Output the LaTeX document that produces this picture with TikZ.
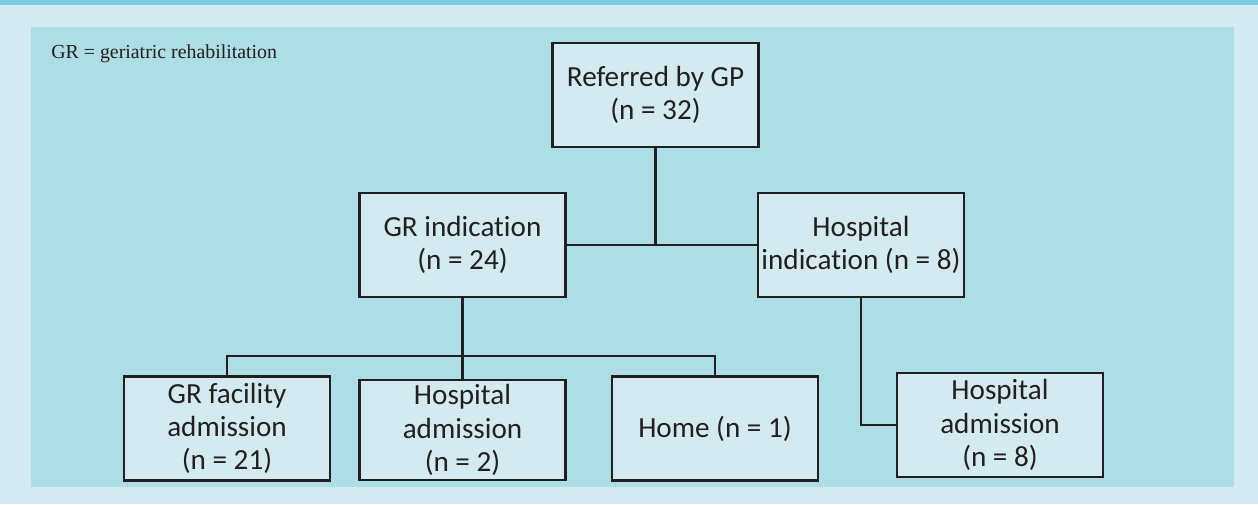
\documentclass[tikz,border=0pt]{standalone}
\usepackage{fontspec}
\usepackage{tikz}
\usepackage{xcolor}
\usetikzlibrary{positioning,calc}
\newfontfamily\boxfont[Ligatures=NoCommon]{Carlito}
\newfontfamily\notefont{Liberation Serif}
\definecolor{stripe}{HTML}{78CEDF}
\definecolor{outerbg}{HTML}{D3EBF0}
\definecolor{panelbg}{HTML}{ADDDE5}
\definecolor{boxfill}{HTML}{D3EBF0}
\definecolor{inkdark}{HTML}{231F20}
\tikzset{
  flowbox/.style={draw=inkdark,fill=boxfill,line width=1.25pt,minimum width=4.12cm,
    minimum height=2.08cm,align=center,text=inkdark,inner sep=2pt,
    font=\boxfont\fontsize{16.6}{18.9}\selectfont},
  link/.style={draw=inkdark,line width=1.25pt}
}

\begin{document}
\begin{tikzpicture}[x=0.02cm,y=-0.02cm]
  \useasboundingbox (0,0) rectangle (1258,504);
  \fill[outerbg] (0,0) rectangle (1258,504);
  \fill[stripe] (0,0) rectangle (1258,5);
  \fill[panelbg] (31,27) rectangle (1234,487);
  \node[anchor=base west,text=inkdark,inner sep=0pt,font=\notefont\fontsize{11.3}{13}\selectfont] (note) at (51,58) {GR = geriatric rehabilitation};
  % top and middle row
  \node[flowbox] (ref) at (655.5,95) {Referred by GP\\(n = 32)};
  \node[flowbox] (gri) at (462.5,245) {GR indication\\(n = 24)};
  \node[flowbox] (hosi) at (861,245) {Hospital\\indication (n = 8)};
  % bottom row
  \node[flowbox] (grf) at (227,428.5) {GR facility\\admission\\(n = 21)};
  \node[flowbox,minimum height=2.0cm] (hosa) at (462.5,430) {Hospital\\admission\\(n = 2)};
  \node[flowbox] (home) at (715,428.5) {Home (n = 1)};
  \node[flowbox] (hosb) at (1000,425) {Hospital\\admission\\(n = 8)};
  \coordinate (bar) at (462.5,356);
  \draw[link] (ref.south) -- (ref.south |- gri.east);
  \draw[link] (gri.east) -- (hosi.west);
  \draw[link] (gri.south) -- (hosa.north);
  \draw[link] (grf.north) |- (bar) -| (home.north);
  \draw[link] (hosi.south) |- (hosb.west);
\end{tikzpicture}
\end{document}
